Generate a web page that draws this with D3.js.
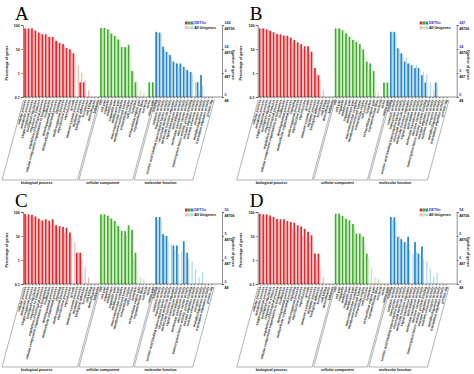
<!DOCTYPE html>
<html>
<head>
<meta charset="utf-8">
<script src="https://cdn.jsdelivr.net/npm/d3@7"></script>
<style>
  body { margin: 0; background: #fff; }
</style>
</head>
<body>
<div id="container"></div>
<script>
// page size
const width = 474;
const height = 374;

// GO level-2 terms, in plotting order
const bpTerms = ["cellular process", "metabolic process", "single-organism process", "biological regulation",
  "response to stimulus", "regulation of biological process", "cellular component organization or biogenesis",
  "localization", "developmental process", "multicellular organismal process", "signaling",
  "multi-organism process", "reproductive process", "reproduction", "growth", "immune system process",
  "rhythmic process", "biological adhesion", "locomotion", "cell killing", "detoxification", "behavior"];
const ccTerms = ["cell", "cell part", "organelle", "membrane", "organelle part", "membrane part",
  "macromolecular complex", "membrane-enclosed lumen", "extracellular region", "cell junction", "symplast",
  "extracellular region part", "supramolecular fiber", "nucleoid", "virion", "virion part"];
const mfTerms = ["binding", "catalytic activity", "transporter activity",
  "nucleic acid binding transcription factor activity", "structural molecule activity",
  "molecular function regulator", "signal transducer activity", "antioxidant activity",
  "molecular transducer activity", "electron carrier activity", "transcription factor activity, protein binding",
  "enzyme regulator activity", "nutrient reservoir activity", "receptor activity", "metallochaperone activity",
  "translation regulator activity", "protein tag"];
const ontologyNames = ["biological process", "cellular component", "molecular function"];

// percentage of genes, same order as bp + cc + mf
const allUnigenes = [
  68, 70, 62, 55, 45, 38, 36, 30, 30, 20, 16, 14, 10, 8.5, 5.5, 2.1, 1.0, 0.5, 0.19, 0.06, 0.04, 0.02,
  70, 70, 62, 42, 33, 24, 12, 11, 5, 1.2, 0.45, 0.19, 0.16, 0.05, 0.03, 0.02,
  48, 42, 10, 6, 4.5, 2.6, 1.8, 2.2, 1.5, 1.1, 0.9, 0.43, 0.2, 0.3, 0.05, 0.03, 0.02];
const degA = [
  72, 72, 72, 58, 48, 41, 41, 32, 32, 22, 18, 16, 11, 9.7, 6.6, 0, 0.41, 0.41, 0, 0, 0, 0,
  75, 75, 66, 44, 35, 25, 12, 12, 15, 1.2, 0.41, 0, 0, 0, 0.41, 0.41,
  52, 48, 12.5, 7.7, 5.6, 3.0, 2.5, 2.5, 1.8, 1.33, 1.1, 0, 0.41, 0.82, 0, 0, 0];
const degB = [
  72, 72, 66, 58, 50, 42, 41, 36, 36, 30, 24, 19, 16, 13, 13, 7.7, 1.6, 0.81, 0, 0, 0, 0,
  72, 72, 60, 45, 32, 24, 20, 16, 9.7, 3.0, 2.5, 1.2, 0, 0, 0.4, 0.4,
  52, 52, 10.8, 6.6, 3.0, 2.5, 2.1, 1.6, 1.6, 0.81, 0.4, 0, 0, 0.4, 0, 0, 0];
const degC = [
  84, 80, 76, 66, 52, 44, 50, 44, 50, 28, 26, 24, 22, 14, 0, 2, 2, 0, 0, 0, 0, 0,
  80, 80, 70, 54, 42, 26, 16, 16, 28, 18, 2, 0, 0, 0, 0, 0,
  62, 62, 12, 10, 0, 4, 4, 0, 6, 2, 0, 0, 0, 0, 0, 0, 0];
const degD = [
  85, 80, 80, 72, 62, 52, 50, 50, 42, 38, 36, 28, 25, 20, 15, 10.7, 1.85, 1.85, 0, 0, 0, 0,
  85, 85, 68, 52, 45, 32, 12.5, 12.5, 9.3, 1.85, 0, 0, 0, 0, 0, 0,
  62, 60, 9.3, 7.4, 5.6, 9.3, 0, 5.6, 1.85, 3.7, 0, 0, 0, 0, 0, 0, 0];

const panelNames = ["A", "B", "C", "D"];
const degTotals = [244, 247, 50, 54];
const unigeneTotal = 48706;
const yTicks = [100, 10, 1, 0.1];

// layout (panel local coords)
const panelOffsets = [[0, 0], [234.7, 0], [0, 187], [234.7, 187]];
const plotLeft = 23, plotRight = 222, plotTop = 25, plotBottom = 97;
const bandStart = 24, bandStep = 3.45;
const boxTop = 100, boxBottom = 180, labelAngle = 75;

const fontFamily = "'Liberation Sans', Arial, sans-serif";
const darkColors = ["#e4262d", "#3fae2f", "#2a86c4"];
const lightColors = ["#f7b4b4", "#c2e6b2", "#abd6f0"];
const degTextColor = "#3030c0";
const axisFont = 3.6;

const terms = bpTerms.concat(ccTerms, mfTerms);
const groupOf = terms.map((t, i) => i < bpTerms.length ? 0 : i < bpTerms.length + ccTerms.length ? 1 : 2);
const groupTerms = [bpTerms, ccTerms, mfTerms];

const svg = d3.select("#container").append("svg")
  .attr("width", width)
  .attr("height", height)
  .attr("font-family", fontFamily);

function styleAxis(a) {
  a.attr("font-family", fontFamily).attr("font-size", axisFont);
  a.selectAll("path, line").attr("stroke", "#222").attr("stroke-width", 0.5);
}

function drawPanel(g, name, deg, degTotal) {
  const x = d3.scaleBand().domain(terms).range([bandStart, bandStart + bandStep * terms.length]);
  const y = d3.scaleLog().domain([0.1, 100]).range([plotBottom, plotTop]);
  const bw = x.bandwidth();

  const rows = terms.map((t, i) => ({ term: t, group: groupOf[i], deg: deg[i], all: allUnigenes[i] }));

  // bars: DETGs (dark) then All Unigenes (light)
  g.append("g").selectAll("rect")
    .data(rows.filter(d => d.deg >= 0.1))
    .join("rect")
    .attr("x", d => x(d.term) + 0.2)
    .attr("width", 1.75)
    .attr("y", d => y(d.deg))
    .attr("height", d => y(0.1) - y(d.deg))
    .attr("fill", d => darkColors[d.group]);

  g.append("g").selectAll("rect")
    .data(rows.filter(d => d.all >= 0.1))
    .join("rect")
    .attr("x", d => x(d.term) + 1.95)
    .attr("width", 1.15)
    .attr("y", d => y(d.all))
    .attr("height", d => y(0.1) - y(d.all))
    .attr("fill", d => lightColors[d.group]);

  // left axis
  const left = g.append("g")
    .attr("transform", `translate(${plotLeft},0)`)
    .call(d3.axisLeft(y).tickValues(yTicks).tickFormat(d => d).tickSize(2).tickPadding(1.2));
  styleAxis(left);
  left.selectAll("text").attr("font-weight", "bold").attr("fill", "#111");

  // right axis with two rows of labels
  const right = g.append("g")
    .attr("transform", `translate(${plotRight},0)`)
    .call(d3.axisRight(y).tickValues(yTicks).tickFormat(() => "").tickSize(2));
  styleAxis(right);
  right.selectAll(".tick text").remove();
  right.selectAll(".tick").append("text")
    .attr("x", 2.6).attr("y", -1.6)
    .attr("fill", degTextColor).attr("font-weight", "bold")
    .text(d => Math.floor(degTotal * d / 100));
  right.selectAll(".tick").append("text")
    .attr("x", 2.6).attr("y", 4)
    .attr("fill", "#111").attr("font-weight", "bold")
    .text(d => Math.floor(unigeneTotal * d / 100));

  // bottom axis with slanted term labels
  const bottom = g.append("g")
    .attr("transform", `translate(0,${plotBottom})`)
    .call(d3.axisBottom(x).tickSize(1.5).tickSizeOuter(0));
  styleAxis(bottom);
  bottom.select(".domain").remove();
  bottom.append("line")
    .attr("x1", plotLeft).attr("x2", plotRight)
    .attr("stroke", "#222").attr("stroke-width", 0.5);
  bottom.selectAll(".tick text")
    .attr("font-size", 3.4)
    .attr("font-weight", "bold")
    .attr("fill", "#222")
    .attr("text-anchor", "end")
    .attr("x", 0).attr("y", 0)
    .attr("dy", "0.35em")
    .attr("transform", `translate(-0.4,2.6) rotate(${-labelAngle})`);

  // ontology boxes
  const slant = (boxBottom - boxTop) / Math.tan(labelAngle * Math.PI / 180);
  groupTerms.forEach((gt, k) => {
    const xl = x(gt[0]) + (k === 0 ? -0.5 : 0.5);
    const xr = k < 2 ? x(groupTerms[k + 1][0]) - 1.0 : x(gt[gt.length - 1]) + bw + 0.5;
    const pts = [[xl, boxTop], [xl - slant, boxBottom], [xr - slant, boxBottom], [xr, boxTop]];
    g.append("path")
      .attr("d", d3.line()(pts))
      .attr("fill", "none")
      .attr("stroke", "#666")
      .attr("stroke-width", 0.5);
    g.append("text")
      .attr("x", (xl + xr) / 2 - slant - 3)
      .attr("y", boxBottom + 4.3)
      .attr("text-anchor", "middle")
      .attr("font-size", axisFont)
      .attr("font-weight", "bold")
      .attr("fill", "#111")
      .text(ontologyNames[k]);
  });

  // axis titles
  g.append("text")
    .attr("transform", `translate(7.5,${(plotTop + plotBottom) / 2 + 2}) rotate(-90)`)
    .attr("text-anchor", "middle")
    .attr("font-size", axisFont).attr("font-weight", "bold").attr("fill", "#111")
    .text("Percentage of genes");
  g.append("text")
    .attr("transform", `translate(232,${(plotTop + plotBottom) / 2 + 4}) rotate(90)`)
    .attr("text-anchor", "middle")
    .attr("font-size", axisFont).attr("font-weight", "bold").attr("fill", "#111")
    .text("Number of genes");

  // legend
  const legend = g.append("g").attr("transform", "translate(185,21.5)");
  darkColors.forEach((c, i) => legend.append("rect")
    .attr("x", i * 2.9).attr("y", 0).attr("width", 2.7).attr("height", 3).attr("fill", c));
  lightColors.forEach((c, i) => legend.append("rect")
    .attr("x", i * 2.9).attr("y", 4.8).attr("width", 2.7).attr("height", 3).attr("fill", c));
  legend.append("text").attr("x", 9.2).attr("y", 2.9)
    .attr("font-size", axisFont).attr("font-weight", "bold").attr("fill", degTextColor).text("DETGs");
  legend.append("text").attr("x", 9.2).attr("y", 7.7)
    .attr("font-size", axisFont).attr("font-weight", "bold").attr("fill", "#111").text("All Unigenes");

  // panel letter
  g.append("text")
    .attr("x", 15).attr("y", 20)
    .attr("font-family", "'Liberation Serif', 'Times New Roman', serif")
    .attr("font-size", 19)
    .attr("fill", "#000")
    .text(name);
}

const degValues = [degA, degB, degC, degD];
panelNames.forEach((name, k) => {
  const g = svg.append("g").attr("transform", `translate(${panelOffsets[k]})`);
  drawPanel(g, name, degValues[k], degTotals[k]);
});
</script>
</body>
</html>
